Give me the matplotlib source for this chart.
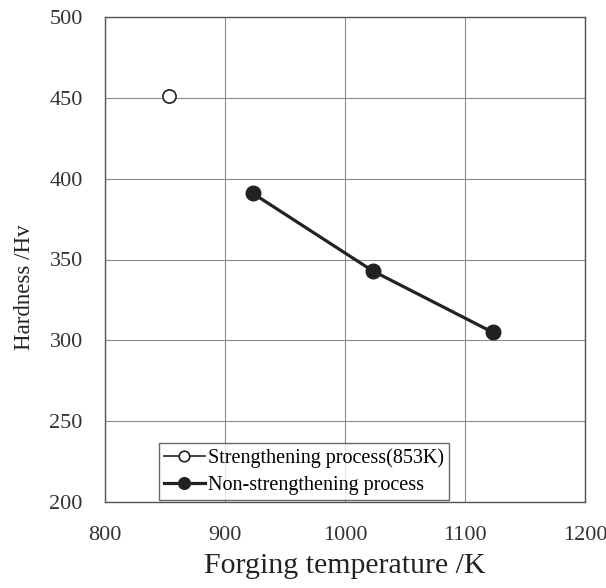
import matplotlib
matplotlib.use("Agg")
import matplotlib.pyplot as plt

plt.rcParams['font.family'] = ['Liberation Serif', 'DejaVu Serif']

open_x = [853]
open_y = [451]
filled_x = [923, 1023, 1123]
filled_y = [391, 343, 305]
labels = ["Strengthening process(853K)", "Non-strengthening process"]
xticks = [800, 900, 1000, 1100, 1200]
yticks = [200, 250, 300, 350, 400, 450, 500]

fig = plt.figure(figsize=(6.06, 5.88), dpi=100)
ax = fig.add_axes([105/606, 1-502/588, 480/606, 485/588])

ax.plot(open_x, open_y, marker='o', markersize=9.5, markerfacecolor='white',
        markeredgecolor='#222222', markeredgewidth=1.2, color='#222222', linewidth=1.2, label=labels[0])
ax.plot(filled_x, filled_y, marker='o', markersize=10.5, color='#222222',
        linewidth=2.3, label=labels[1])

ax.set_xlim(800, 1200)
ax.set_ylim(200, 500)
ax.set_xticks(xticks)
ax.set_yticks(yticks)
ax.grid(True, color='#8a8a8a', linewidth=0.8)
ax.set_axisbelow(True)
ax.tick_params(length=0, labelsize=16, colors='#333333')
ax.tick_params(axis='x', pad=17)
ax.tick_params(axis='y', pad=16)
for s in ax.spines.values():
    s.set_color('#555555')
    s.set_linewidth(1.0)

ax.set_xlabel("Forging temperature /K", fontsize=21.5, color='#222222', labelpad=6)
ax.set_ylabel("Hardness /Hv", fontsize=16.5, color='#222222')
ax.yaxis.set_label_coords(-0.146, 0.443)

leg = ax.legend(loc='lower left', bbox_to_anchor=(0.113, 0.004), frameon=True, fancybox=False,
                fontsize=14.5, handlelength=2.0, handletextpad=0.15, borderpad=0.25, labelspacing=0.4,
                borderaxespad=0, markerscale=0.8)
leg.get_frame().set_edgecolor('#444444')
leg.get_frame().set_linewidth(1.0)

fig.savefig("out.png", dpi=100)
